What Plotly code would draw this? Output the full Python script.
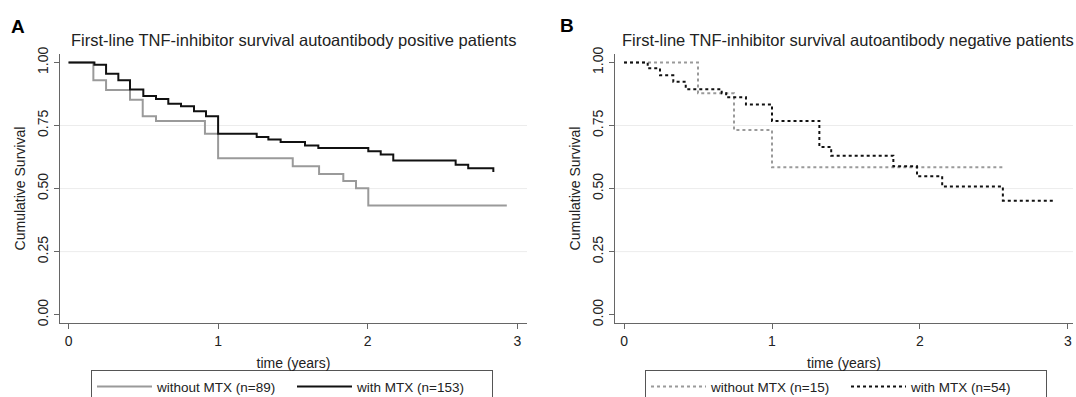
import plotly.graph_objects as go

# ---------------- data ----------------
# Panel A: autoantibody positive
a_without_t = [0, 0.166, 0.251, 0.411, 0.496, 0.585, 0.912, 1.0, 1.499, 1.675, 1.837, 1.922, 2.004, 2.93]
a_without_s = [1.0, 0.929, 0.891, 0.852, 0.787, 0.768, 0.717, 0.620, 0.588, 0.558, 0.530, 0.501, 0.433, 0.433]
a_with_t = [0, 0.173, 0.251, 0.333, 0.411, 0.5, 0.585, 0.667, 0.752, 0.839, 0.919, 1.0, 1.258, 1.336,
            1.418, 1.581, 1.67, 2.004, 2.087, 2.171, 2.588, 2.672, 2.84]
a_with_s = [1.0, 0.991, 0.955, 0.929, 0.893, 0.867, 0.855, 0.836, 0.826, 0.807, 0.787, 0.717, 0.704, 0.695,
            0.685, 0.671, 0.661, 0.648, 0.635, 0.611, 0.594, 0.581, 0.566]
# Panel B: autoantibody negative
b_without_t = [0, 0.5, 0.743, 1.0, 2.56]
b_without_s = [1.0, 0.878, 0.732, 0.585, 0.585]
b_with_t = [0, 0.16, 0.243, 0.333, 0.417, 0.66, 0.69, 0.824, 1.0, 1.32, 1.40, 1.82, 1.98, 2.15, 2.56, 2.90]
b_with_s = [1.0, 0.977, 0.949, 0.923, 0.894, 0.878, 0.862, 0.833, 0.768, 0.665, 0.630, 0.588, 0.549, 0.508, 0.452, 0.452]

x_ticks = [0, 1, 2, 3]
y_ticks = [0.0, 0.25, 0.5, 0.75, 1.0]
y_ticklabels = ["0.00", "0.25", "0.50", "0.75", "1.00"]
grid_vals = [0.25, 0.5, 0.75]

title_a = "First-line TNF-inhibitor survival autoantibody positive patients"
title_b = "First-line TNF-inhibitor survival autoantibody negative patients"
labels_a = ["without MTX (n=89)", "with MTX (n=153)"]
labels_b = ["without MTX (n=15)", "with MTX (n=54)"]

# ---------------- figure ----------------
W, H = 1076, 420   # a bit taller than the window so the legend can run off the bottom edge
DY = 5  # observed vertical offset of the page in the screenshot


def px(x):
    return x / W


def py(y):
    return 1 - (y - DY) / H


FONT = "Liberation Sans, Arial, sans-serif"
GRAY = "#9a9a9a"
BLACK = "#111111"
TXT = "#222222"

fig = go.Figure()
fig.add_trace(go.Scatter(x=a_without_t, y=a_without_s, mode="lines", line_shape="hv",
                         line=dict(color=GRAY, width=2), name=labels_a[0],
                         xaxis="x", yaxis="y", legend="legend"))
fig.add_trace(go.Scatter(x=a_with_t, y=a_with_s, mode="lines", line_shape="hv",
                         line=dict(color=BLACK, width=2), name=labels_a[1],
                         xaxis="x", yaxis="y", legend="legend"))
fig.add_trace(go.Scatter(x=b_without_t, y=b_without_s, mode="lines", line_shape="hv",
                         line=dict(color=GRAY, width=2, dash="dot"), name=labels_b[0],
                         xaxis="x2", yaxis="y2", legend="legend2"))
fig.add_trace(go.Scatter(x=b_with_t, y=b_with_s, mode="lines", line_shape="hv",
                         line=dict(color=BLACK, width=2, dash="dot"), name=labels_b[1],
                         xaxis="x2", yaxis="y2", legend="legend2"))

ydom = [py(329), py(53)]
axis_common = dict(showgrid=False, zeroline=False, showline=True, linecolor="#666666", linewidth=1,
                   ticks="outside", ticklen=5, tickcolor="#666666",
                   tickfont=dict(family=FONT, size=14, color=TXT))

xa = dict(axis_common, tickvals=x_ticks, title=dict(text="time (years)", standoff=10,
          font=dict(family=FONT, size=14, color=TXT)))
ya = dict(axis_common, tickvals=y_ticks, ticktext=y_ticklabels, tickangle=-90, domain=ydom,
          range=[-0.034, 1.034],
          title=dict(text="Cumulative Survival", standoff=6, font=dict(family=FONT, size=14, color=TXT)))

legend_common = dict(orientation="h", xanchor="center", y=py(377), yanchor="top",
                     bordercolor="#555555", borderwidth=1, bgcolor="white",
                     font=dict(family=FONT, size=13.5, color=TXT),
                     itemwidth=55, entrywidth=130, entrywidthmode="pixels")

fig.update_layout(
    width=W, height=H, margin=dict(l=0, r=0, t=0, b=0),
    paper_bgcolor="white", plot_bgcolor="white",
    font=dict(family=FONT, color=TXT),
    xaxis=dict(xa, domain=[px(60), px(527)], range=[-0.057, 3.065], anchor="y"),
    yaxis=dict(ya, anchor="x"),
    xaxis2=dict(xa, domain=[px(615), px(1073)], range=[-0.061, 3.034], anchor="y2"),
    yaxis2=dict(ya, anchor="x2"),
    legend=dict(legend_common, x=px(292)),
    legend2=dict(legend_common, x=px(846)),
    annotations=[
        dict(text="<b>A</b>", x=px(18), y=py(25), xref="paper", yref="paper", showarrow=False,
             xanchor="center", yanchor="middle", font=dict(family=FONT, size=19, color="black")),
        dict(text="<b>B</b>", x=px(567), y=py(24), xref="paper", yref="paper", showarrow=False,
             xanchor="center", yanchor="middle", font=dict(family=FONT, size=19, color="black")),
        dict(text=title_a, x=px(293), y=py(39), xref="paper", yref="paper", showarrow=False,
             xanchor="center", yanchor="middle", font=dict(family=FONT, size=16.5, color=TXT)),
        dict(text=title_b, x=px(848), y=py(39), xref="paper", yref="paper", showarrow=False,
             xanchor="center", yanchor="middle", font=dict(family=FONT, size=16.5, color=TXT)),
    ],
)

shapes = []
for xr, yr in [("x domain", "y"), ("x2 domain", "y2")]:
    for g in grid_vals:
        shapes.append(dict(type="line", xref=xr, yref=yr, x0=0, x1=1, y0=g, y1=g,
                           line=dict(color="#ececec", width=1), layer="below"))
fig.update_layout(shapes=shapes)

# remove the browser's default page margin so the figure fills the window exactly
fig.write_html("out.html", config={"displayModeBar": False},
               post_script="document.documentElement.style.overflow='hidden';"
                           "document.body.style.margin='0';document.body.style.overflow='hidden';")
